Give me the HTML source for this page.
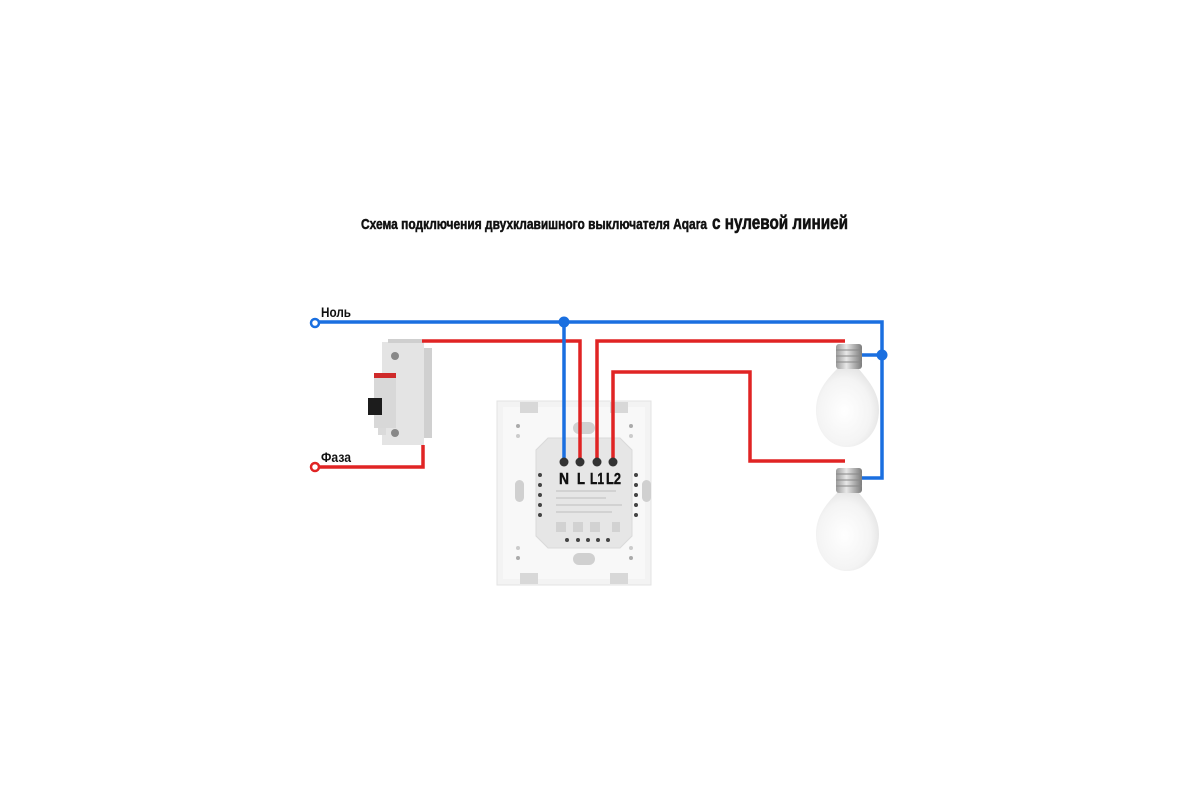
<!DOCTYPE html>
<html><head><meta charset="utf-8"><style>
html,body{margin:0;padding:0;background:#fff;width:1200px;height:800px;overflow:hidden}
svg{display:block}
text{font-family:"Liberation Sans Narrow","Liberation Sans",sans-serif;font-weight:bold;fill:#111}
</style></head><body>
<svg width="1200" height="800" viewBox="0 0 1200 800" xmlns="http://www.w3.org/2000/svg">
<defs>
<radialGradient id="bulb" cx="0.45" cy="0.55" r="0.6">
<stop offset="0" stop-color="#ffffff"/><stop offset="0.7" stop-color="#f4f4f4"/><stop offset="1" stop-color="#e2e2e2"/>
</radialGradient>
<linearGradient id="base" x1="0" x2="1">
<stop offset="0" stop-color="#9a9a9a"/><stop offset="0.4" stop-color="#e8e8e8"/><stop offset="0.7" stop-color="#b0b0b0"/><stop offset="1" stop-color="#7c7c7c"/>
</linearGradient>
</defs>

<!-- Title -->
<text x="361" y="229" font-size="15" stroke="#111" stroke-width="0.5" textLength="346" lengthAdjust="spacingAndGlyphs">Схема подключения двухклавишного выключателя Aqara</text>
<text x="712" y="229" font-size="19" stroke="#111" stroke-width="0.6" textLength="136" lengthAdjust="spacingAndGlyphs">с нулевой линией</text>

<!-- Switch plate -->
<rect x="497" y="401" width="154" height="184" fill="#f3f3f3" stroke="#e3e3e3"/>
<rect x="503" y="407" width="142" height="172" fill="#f8f8f8"/>
<rect x="520" y="402" width="18" height="11" fill="#d8d8d8"/>
<rect x="610" y="402" width="18" height="11" fill="#d8d8d8"/>
<rect x="520" y="573" width="18" height="11" fill="#d8d8d8"/>
<rect x="610" y="573" width="18" height="11" fill="#d8d8d8"/>
<circle cx="518" cy="426" r="2" fill="#aaa"/><circle cx="518" cy="436" r="2" fill="#ccc"/>
<circle cx="631" cy="426" r="2" fill="#aaa"/><circle cx="631" cy="436" r="2" fill="#ccc"/>
<circle cx="518" cy="548" r="2" fill="#ccc"/><circle cx="518" cy="558" r="2" fill="#aaa"/>
<circle cx="631" cy="548" r="2" fill="#ccc"/><circle cx="631" cy="558" r="2" fill="#aaa"/>
<rect x="573" y="422" width="22" height="12" rx="6" fill="#d0d0d0"/>
<rect x="573" y="553" width="22" height="12" rx="6" fill="#d0d0d0"/>
<rect x="515" y="480" width="9" height="22" rx="4.5" fill="#d0d0d0"/>
<rect x="642" y="480" width="9" height="22" rx="4.5" fill="#d0d0d0"/>
<path d="M548 438 H620 L632 450 V536 L620 548 H548 L536 536 V450 Z" fill="#e6e6e6" stroke="#dadada"/>
<g fill="#444">
<circle cx="540" cy="475" r="2"/><circle cx="540" cy="485" r="2"/><circle cx="540" cy="495" r="2"/><circle cx="540" cy="505" r="2"/><circle cx="540" cy="515" r="2"/>
<circle cx="636" cy="475" r="2"/><circle cx="636" cy="485" r="2"/><circle cx="636" cy="495" r="2"/><circle cx="636" cy="505" r="2"/><circle cx="636" cy="515" r="2"/>
<circle cx="567" cy="540" r="2"/><circle cx="578" cy="540" r="2"/><circle cx="588" cy="540" r="2"/><circle cx="598" cy="540" r="2"/><circle cx="608" cy="540" r="2"/>
</g>
<g fill="#d2d2d2">
<rect x="556" y="490" width="60" height="2"/><rect x="556" y="497" width="50" height="2"/><rect x="556" y="504" width="66" height="2"/><rect x="556" y="511" width="56" height="2"/>
<rect x="556" y="522" width="10" height="10"/><rect x="573" y="522" width="10" height="10"/><rect x="590" y="522" width="10" height="10"/><rect x="612" y="522" width="8" height="10"/>
</g>

<!-- Breaker -->
<rect x="382" y="342" width="42" height="103" fill="#e4e4e4"/>
<rect x="424" y="348" width="8" height="90" fill="#d0d0d0"/>
<rect x="378" y="373" width="8" height="62" fill="#dadada"/>
<rect x="374" y="373" width="22" height="5" fill="#cf2a2a"/>
<rect x="374" y="378" width="22" height="50" fill="#d8d8d8"/>
<rect x="368" y="398" width="14" height="17" fill="#1c1c1c"/>
<circle cx="395" cy="356" r="4" fill="#888"/><circle cx="395" cy="433" r="4" fill="#888"/>
<rect x="388" y="339" width="34" height="4" fill="#cfcfcf"/>

<!-- Bulbs -->
<g>
<path d="M838 368 C826 380 816 392 816 410 C816 432 830 447 847 447 C864 447 879 432 879 410 C879 392 868 380 858 368 Z" fill="url(#bulb)"/>
<rect x="836" y="344" width="26" height="25" rx="3" fill="url(#base)"/>
<g stroke="#888" stroke-width="1"><line x1="836" y1="350" x2="862" y2="350"/><line x1="836" y1="356" x2="862" y2="356"/><line x1="836" y1="362" x2="862" y2="362"/></g>
</g>
<g>
<path d="M838 492 C826 504 816 516 816 534 C816 556 830 571 847 571 C864 571 879 556 879 534 C879 516 868 504 858 492 Z" fill="url(#bulb)"/>
<rect x="836" y="468" width="26" height="25" rx="3" fill="url(#base)"/>
<g stroke="#888" stroke-width="1"><line x1="836" y1="474" x2="862" y2="474"/><line x1="836" y1="480" x2="862" y2="480"/><line x1="836" y1="486" x2="862" y2="486"/></g>
</g>

<!-- Red wires -->
<g fill="none" stroke="#e02424" stroke-width="3.5" stroke-linejoin="miter">
<polyline points="422,341 580,341 580,462"/>
<polyline points="845,341 597,341 597,462"/>
<polyline points="613,462 613,372 750,372 750,461 845,461"/>
<polyline points="318,467 423,467 423,445"/>
</g>
<!-- Blue wires -->
<g fill="none" stroke="#1a6fe0" stroke-width="3.5">
<polyline points="319,322 882,322 882,478 862,478"/>
<line x1="564" y1="322" x2="564" y2="462"/>
<line x1="862" y1="355" x2="882" y2="355"/>
</g>
<circle cx="564" cy="322" r="5.5" fill="#1a6fe0"/>
<circle cx="882" cy="355" r="5.5" fill="#1a6fe0"/>
<circle cx="315" cy="323" r="4" fill="#fff" stroke="#1a6fe0" stroke-width="2.5"/>
<circle cx="315" cy="467" r="4" fill="#fff" stroke="#e02424" stroke-width="2.5"/>

<!-- Terminals -->
<g fill="#333"><circle cx="564" cy="462" r="4.5"/><circle cx="580" cy="462" r="4.5"/><circle cx="597" cy="462" r="4.5"/><circle cx="613" cy="462" r="4.5"/></g>
<g font-size="16" stroke="#111" stroke-width="0.4">
<text x="559" y="484" textLength="10" lengthAdjust="spacingAndGlyphs">N</text>
<text x="577" y="484" textLength="8" lengthAdjust="spacingAndGlyphs">L</text>
<text x="590" y="484" textLength="14" lengthAdjust="spacingAndGlyphs">L1</text>
<text x="606" y="484" textLength="15" lengthAdjust="spacingAndGlyphs">L2</text>
</g>

<text x="321" y="317" font-size="14" textLength="30" lengthAdjust="spacingAndGlyphs">Ноль</text>
<text x="321" y="462" font-size="14" textLength="30" lengthAdjust="spacingAndGlyphs">Фаза</text>
</svg>
</body></html>
